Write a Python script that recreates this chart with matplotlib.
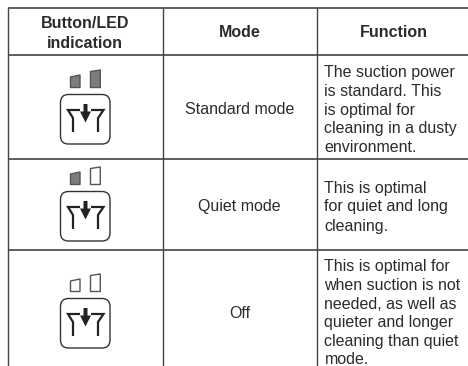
import matplotlib
matplotlib.use("Agg")
import matplotlib.pyplot as plt
from matplotlib.patches import FancyBboxPatch, Polygon

headers = ["Button/LED\nindication", "Mode", "Function"]
modes = ["Standard mode", "Quiet mode", "Off"]
functions = [
    ["The suction power", "is standard. This", "is optimal for", "cleaning in a dusty", "environment."],
    ["This is optimal", "for quiet and long", "cleaning."],
    ["This is optimal for", "when suction is not", "needed, as well as", "quieter and longer", "cleaning than quiet", "mode."],
]
function_line_y = [[72, 90.5, 109.5, 128.5, 147], [188, 206.5, 226], [266, 285, 304, 322.5, 341, 359.5]]
led_states = [(True, True), (True, False), (False, False)]
row_offsets = [0, 97, 204]
row_centres = [109, 206, 313]
column_lines = [8, 162.5, 316.5]
row_lines = [8, 54.5, 158.5, 249.5]
mode_x = 239.5
icon_x = 85

TXT = "#2b2b2b"
LINE = "#333333"
FS = 11.5
plt.rcParams["font.family"] = ["Liberation Sans", "DejaVu Sans"]

fig = plt.figure(figsize=(4.68, 3.66), dpi=100)
ax = fig.add_axes([0, 0, 1, 1])
ax.set_xlim(0, 468)
ax.set_ylim(366, 0)
ax.axis("off")

for y in row_lines:
    ax.plot([column_lines[0] - 0.5, 468], [y, y], color=LINE, lw=1.1, solid_capstyle="butt")
for x in column_lines:
    ax.plot([x, x], [row_lines[0], 366], color="#444444", lw=1.0, solid_capstyle="butt")

ax.text(icon_x, 33.5, headers[0], ha="center", va="center", fontsize=FS, fontweight="bold",
        color=TXT, linespacing=1.38)
ax.text(mode_x, 32.5, headers[1], ha="center", va="center", fontsize=FS, fontweight="bold", color=TXT)
ax.text(394, 32.5, headers[2], ha="center", va="center", fontsize=FS, fontweight="bold", color=TXT)

for mode, yc in zip(modes, row_centres):
    ax.text(mode_x, yc + 5, mode, ha="center", va="baseline", fontsize=FS, color=TXT)

for lines, ys in zip(functions, function_line_y):
    for line, y in zip(lines, ys):
        ax.text(324.5, y + 5, line, ha="left", va="baseline", fontsize=FS, color=TXT)


def led(pts, on):
    ax.add_patch(Polygon(pts, closed=True, joinstyle="round", lw=1.0, edgecolor="#555555",
                         facecolor="#7d7d7d" if on else "white"))


for dy, (a, b) in zip(row_offsets, led_states):
    led([(70.5, 77 + dy), (80, 75 + dy), (80, 87.5 + dy), (70.5, 87.5 + dy)], a)
    led([(90.5, 71.5 + dy), (100.3, 70 + dy), (100.3, 87.5 + dy), (90.5, 87.5 + dy)], b)
    ax.add_patch(FancyBboxPatch((60.5 + 8, 94.5 + dy + 8), 49.5 - 16, 49.5 - 16,
                                boxstyle="round,pad=8,rounding_size=8",
                                lw=1.0, ec="#333333", fc="white"))
    ax.plot([80, 68, 73, 73], [110 + dy, 110 + dy, 118 + dy, 132 + dy], color="#222222", lw=1.6,
            solid_joinstyle="miter", solid_capstyle="butt")
    ax.plot([91, 103.5, 98, 98], [110 + dy, 110 + dy, 118 + dy, 132 + dy], color="#222222", lw=1.6,
            solid_joinstyle="miter", solid_capstyle="butt")
    ax.add_patch(Polygon([(83.5, 104 + dy), (87.5, 104 + dy), (87.5, 111.5 + dy), (91, 111.5 + dy),
                          (85.5, 122.5 + dy), (80, 111.5 + dy), (83.5, 111.5 + dy)],
                         closed=True, fc="#222222", ec="none"))

fig.savefig("out.png", dpi=100)
